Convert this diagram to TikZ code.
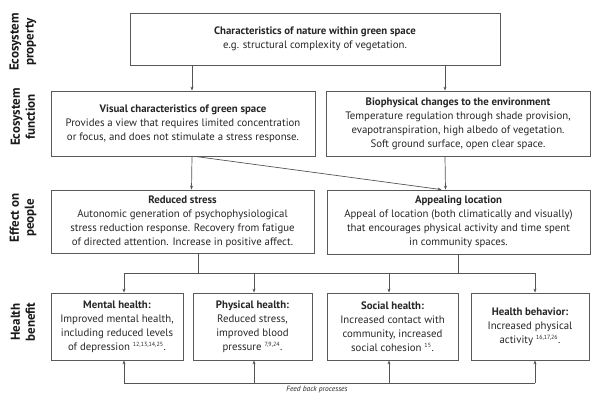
\documentclass[tikz,border=0pt]{standalone}
\usepackage{fontspec}
\setmainfont{PT Sans}
\usetikzlibrary{arrows.meta,calc}
\begin{document}
\begin{tikzpicture}[x=1pt,y=-1pt,
  box/.style={draw=boxgray,line width=0.8pt,align=center,inner sep=0pt,
    font=\fontsize{10.8}{14}\selectfont,text=black!85},
  side/.style={rotate=90,align=center,font=\fontsize{13}{15}\selectfont\bfseries,text=black!90},
  con/.style={draw=linegray,line width=0.7pt},
  arr/.style={con,-{Stealth[length=4pt,width=3pt]}}]
\definecolor{boxgray}{HTML}{5A5A5A}
\definecolor{linegray}{HTML}{555555}
\useasboundingbox (0,0) rectangle (600,402);
\newcommand{\sups}[1]{\textsuperscript{\fontsize{6}{6}\selectfont #1}}

% row labels
\node[side] (lp) at (23,42) {Ecosystem\\property};
\node[side] (lf) at (23,117) {Ecosystem\\function};
\node[side] (le) at (23,218) {Effect on\\people};
\node[side] (lh) at (23,322) {Health\\benefit};

% boxes
\node[box,minimum width=370,minimum height=52] (top) at (315,39)
  {\textbf{Characteristics of nature within green space}\\e.g. structural complexity of vegetation.};
\node[box,minimum width=264,minimum height=65] (vis) at (183,123.5)
  {\textbf{Visual characteristics of green space}\\Provides a view that requires limited concentration\\or focus, and does not stimulate a stress response.};
\node[box,minimum width=264,minimum height=65] (bio) at (458,123.5)
  {\textbf{Biophysical changes to the environment}\\Temperature regulation through shade provision,\\evapotranspiration, high albedo of vegetation.\\Soft ground surface, open clear space.};
\node[box,minimum width=263,minimum height=63] (red) at (182.5,221.5)
  {\textbf{Reduced stress}\\Autonomic generation of psychophysiological\\stress reduction response. Recovery from fatigue\\of directed attention. Increase in positive affect.};
\node[box,minimum width=263,minimum height=64] (app) at (458.5,222)
  {\textbf{Appealing location}\\Appeal of location (both climatically and visually)\\that encourages physical activity and time spent\\in community spaces.};
\node[box,minimum width=132,minimum height=67] (men) at (117,326.5)
  {\textbf{Mental health:}\\Improved mental health,\\including reduced levels\\of depression \sups{12,13,14,25}.};
\node[box,minimum width=119,minimum height=67] (phy) at (252.5,326.5)
  {\textbf{Physical health:}\\Reduced stress,\\improved blood\\pressure \sups{7,9,24}.};
\node[box,minimum width=131,minimum height=67] (soc) at (392.5,326.5)
  {\textbf{Social health:}\\Increased contact with\\community, increased\\social cohesion \sups{15}.};
\node[box,minimum width=118,minimum height=67] (hb) at (530,326.5)
  {\textbf{Health behavior:}\\Increased physical\\activity \sups{16,17,26}.};

% connectors top rows
\draw[arr] ([xshift=9pt]vis.north |- top.south) -- ([xshift=9pt]vis.north);
\draw[arr] ([xshift=-13pt]bio.north |- top.south) -- ([xshift=-13pt]bio.north);
\draw[arr] ([xshift=9pt]vis.south) -- ([xshift=9pt]red.north);
\draw[arr] ([xshift=12pt]vis.south) -- ([xshift=-17pt]app.north);
\draw[arr] ([xshift=-13pt]bio.south) -- ([xshift=-13pt]app.north);

% distribution bus
\coordinate (busL) at (124,273);
\coordinate (busR) at (535,273);
\draw[con] ([xshift=15.5pt]red.south) -- ([xshift=15.5pt]red.south |- busL);
\draw[con] (app.south) -- (app.south |- busL);
\draw[con] (busL) -- (busR);
\draw[arr] (busL) -- (busL |- men.north);
\draw[arr] ([xshift=1.5pt]phy.north |- busL) -- ([xshift=1.5pt]phy.north);
\draw[arr] ([xshift=-3.5pt]soc.north |- busL) -- ([xshift=-3.5pt]soc.north);
\draw[arr] (busR) -- (busR |- hb.north);

% feedback
\coordinate (fbL) at (124,383);
\coordinate (fbR) at (535,383);
\draw[con] (fbL) -- (fbR);
\draw[arr] (fbL) -- (fbL |- men.south);
\draw[arr] ([xshift=1.5pt]phy.south |- fbL) -- ([xshift=1.5pt]phy.south);
\draw[arr] ([xshift=-3.5pt]soc.south |- fbL) -- ([xshift=-3.5pt]soc.south);
\draw[arr] (fbR) -- (fbR |- hb.south);
\node[font=\fontsize{7.5}{9}\selectfont\itshape,text=black!85,inner sep=0pt] (fbt) at (317,390) {Feed back processes};
\end{tikzpicture}
\end{document}
